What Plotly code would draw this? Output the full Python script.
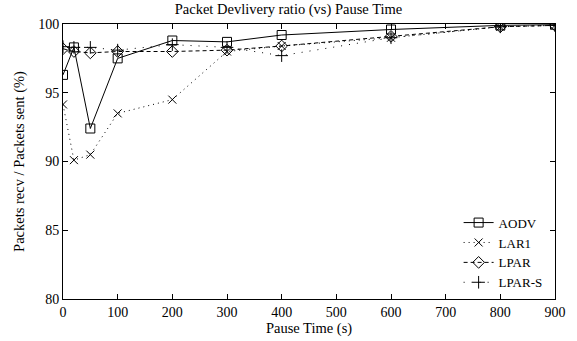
import plotly.graph_objects as go

pause = [0, 20, 50, 100, 200, 300, 400, 600, 800, 900]
aodv = [96.3, 98.3, 92.4, 97.5, 98.8, 98.7, 99.2, 99.6, 99.9, 99.95]
lar1 = [94.15, 90.1, 90.5, 93.5, 94.5, 98.0, 98.4, 99.0, 99.8, 99.9]
lpar = [98.2, 98.0, 97.9, 98.0, 98.0, 98.1, 98.4, 99.1, 99.8, 99.9]
lpars = [98.35, 98.3, 98.3, 98.1, 98.5, 98.3, 97.7, 99.0, 99.8, 99.9]
x_ticks = [0, 100, 200, 300, 400, 500, 600, 700, 800, 900]
y_ticks = [80, 85, 90, 95, 100]

FONT = "Liberation Serif, Times New Roman, serif"

series = [
    ("AODV", aodv, "solid", "square-open", 9),
    ("LAR1", lar1, "1px,4px", "x-thin-open", 8),
    ("LPAR", lpar, "4px,3px", "diamond-open", 9),
    ("LPAR-S", lpars, "1px,7px", "cross-thin-open", 9),
]

fig = go.Figure()
for name, vals, dash, sym, sz in series:
    fig.add_trace(go.Scatter(
        x=pause, y=vals, name=name, mode="lines+markers",
        line=dict(color="black", width=1, dash=dash),
        marker=dict(symbol=sym, size=sz, color="black",
                    line=dict(color="black", width=1)),
    ))

axis_common = dict(
    showline=True, linecolor="black", linewidth=1, mirror="ticks",
    ticks="inside", ticklen=5, tickcolor="black", tickwidth=1,
    showgrid=False, zeroline=False,
    tickfont=dict(family=FONT, size=14, color="black"),
)

fig.update_layout(
    width=577, height=341,
    margin=dict(l=63, r=11, t=24, b=42),
    paper_bgcolor="white", plot_bgcolor="white",
    title=dict(text="Packet Devlivery ratio (vs) Pause Time",
               x=0.5, xanchor="center", y=0.99, yanchor="top",
               font=dict(family=FONT, size=14.5, color="black")),
    xaxis=dict(range=[0, 900], tickvals=x_ticks,
               title=dict(text="Pause Time (s)", standoff=0,
                          font=dict(family=FONT, size=14.5, color="black")),
               **axis_common),
    yaxis=dict(range=[80, 100], tickvals=y_ticks,
               title=dict(text="Packets recv / Packets sent (%)", standoff=10,
                          font=dict(family=FONT, size=14.5, color="black")),
               **axis_common),
    legend=dict(x=0.985, y=0.005, xanchor="right", yanchor="bottom",
                bgcolor="rgba(0,0,0,0)", borderwidth=0,
                font=dict(family=FONT, size=13, color="black"),
                itemwidth=30, tracegroupgap=0),
    showlegend=True,
)

fig.write_html("out.html")
